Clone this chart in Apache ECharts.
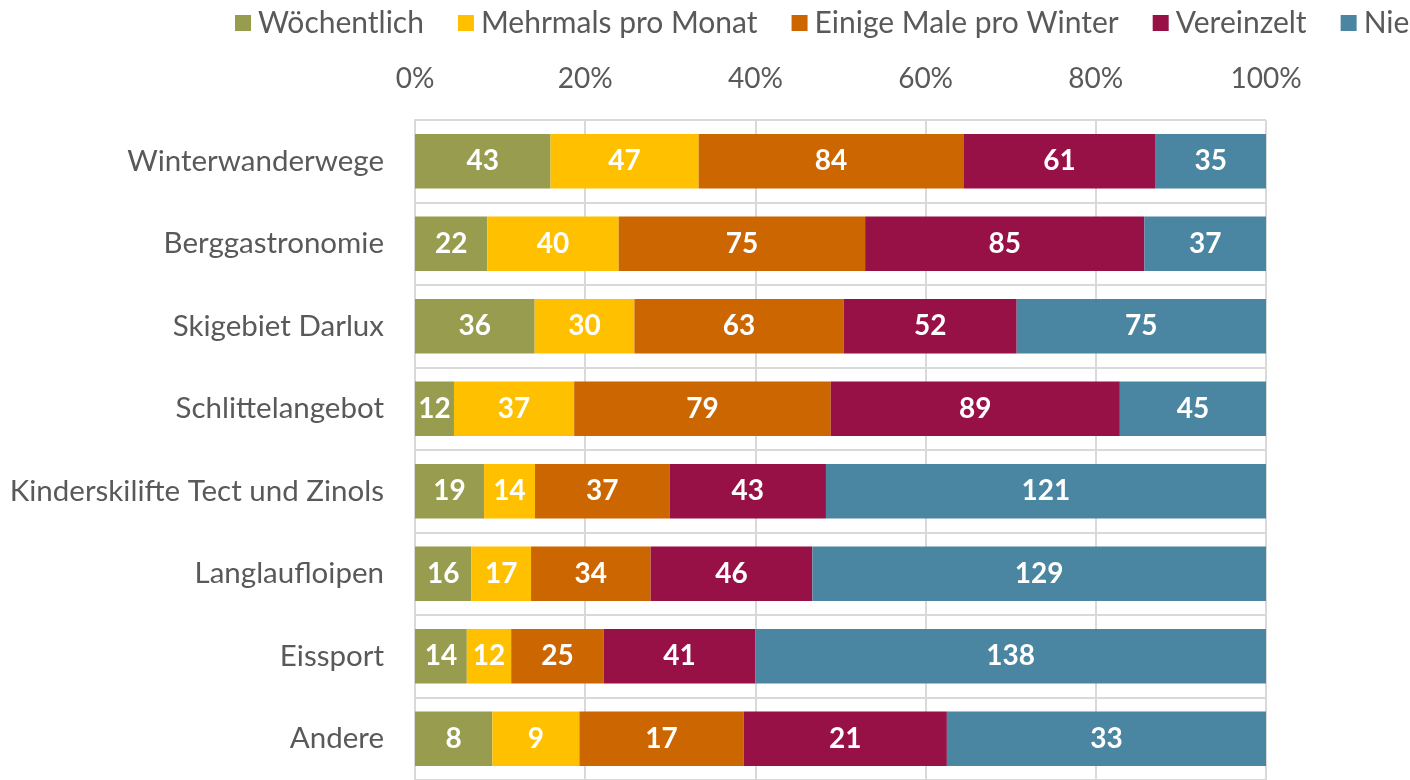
<!DOCTYPE html>
<html>
<head>
<meta charset="utf-8">
<script src="https://cdn.jsdelivr.net/npm/echarts@6/dist/echarts.min.js"></script>
<style>
  html, body { margin: 0; padding: 0; background: #fff; }
  #chart-view { width: 1410px; height: 780px; }
</style>
</head>
<body>
<div id="chart-view"></div>
<script>
// Kategorien (von oben nach unten)
var categories = ['Winterwanderwege', 'Berggastronomie', 'Skigebiet Darlux', 'Schlittelangebot',
    'Kinderskilifte Tect und Zinols', 'Langlaufloipen', 'Eissport', 'Andere'];
var seriesNames = ['Wöchentlich', 'Mehrmals pro Monat', 'Einige Male pro Winter', 'Vereinzelt', 'Nie'];

// Anzahl Antworten je Kategorie
var woechentlich = [43, 22, 36, 12, 19, 16, 14, 8];
var mehrmals     = [47, 40, 30, 37, 14, 17, 12, 9];
var einigeMale   = [84, 75, 63, 79, 37, 34, 25, 17];
var vereinzelt   = [61, 85, 52, 89, 43, 46, 41, 21];
var nie          = [35, 37, 75, 45, 121, 129, 138, 33];

var tickLabels = ['0%', '20%', '40%', '60%', '80%', '100%'];

var colors = ['#979C4E', '#FFC000', '#CC6600', '#971046', '#4A86A2'];
var FONT = 'Lato';

var trendChart = echarts.init(document.getElementById('chart-view'));

var rows = [woechentlich, mehrmals, einigeMale, vereinzelt, nie];
// Summe pro Kategorie -> 100%
var totals = categories.map(function (c, i) {
    var s = 0;
    for (var k = 0; k < rows.length; k++) s += rows[k][i];
    return s;
});

var series = rows.map(function (arr, k) {
    return {
        name: seriesNames[k],
        type: 'bar',
        stack: 'total',
        barWidth: '66%',
        itemStyle: { color: colors[k] },
        label: {
            show: true,
            position: 'inside',
            color: '#fff',
            fontFamily: FONT,
            fontWeight: 'bold',
            fontSize: 28,
            formatter: function (p) { return arr[p.dataIndex]; }
        },
        data: arr.map(function (v, i) { return v / totals[i] * 100; })
    };
});

trendChart.setOption({
    animation: false,
    color: colors,
    textStyle: { fontFamily: FONT },
    legend: {
        top: 3,
        left: 230,
        width: 1400,
        itemWidth: 16,
        itemHeight: 16,
        itemGap: 34,
        icon: 'rect',
        textStyle: { color: '#595959', fontSize: 30, fontFamily: FONT, padding: [0, 0, 0, 2] },
        data: seriesNames
    },
    grid: { left: 415, top: 120, width: 851, height: 667 },
    xAxis: {
        type: 'value',
        position: 'top',
        min: 0,
        max: 100,
        interval: 20,
        axisLine: { show: false },
        axisTick: { show: false },
        axisLabel: {
            color: '#595959', fontSize: 28, fontFamily: FONT, margin: 27,
            formatter: function (v) { return tickLabels[Math.round(v / 20)]; }
        },
        splitLine: { show: true, lineStyle: { color: '#d9d9d9', width: 2 } }
    },
    yAxis: {
        type: 'category',
        inverse: true,
        data: categories,
        axisLine: { show: true, lineStyle: { color: '#d9d9d9', width: 2 } },
        axisTick: { show: false },
        axisLabel: { color: '#595959', fontSize: 29.5, fontFamily: FONT, margin: 31, padding: [6, 0, 0, 0] },
        splitLine: { show: true, lineStyle: { color: '#d9d9d9', width: 2 } }
    },
    series: series
});
</script>
</body>
</html>
